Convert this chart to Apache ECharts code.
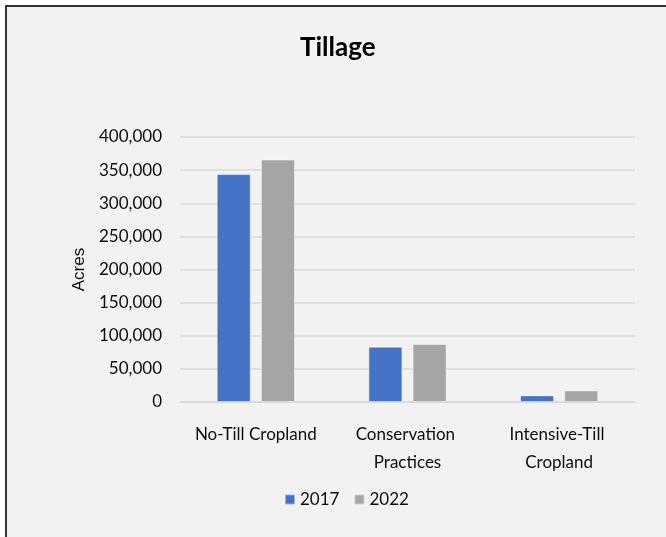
<!DOCTYPE html>
<html>
<head>
<meta charset="utf-8">
<script src="https://cdn.jsdelivr.net/npm/echarts@6/dist/echarts.min.js"></script>
<style>
html,body{margin:0;padding:0;background:#ffffff;}
#chart{width:666px;height:537px;}
</style>
</head>
<body>
<div id="chart"></div>
<script>
var categories = ['No-Till Cropland', 'Conservation Practices', 'Intensive-Till Cropland'];
var values2017 = [344000, 83500, 10000];
var values2022 = [366000, 87500, 17500];
var seriesNames = ['2017', '2022'];
var yMin = 0, yMax = 400000, yStep = 50000;

var FONT = 'Lato, "Open Sans", sans-serif';
var TXT = '#0d0d0d';
var chart = echarts.init(document.getElementById('chart'), null, {renderer: 'canvas'});
chart.setOption({
  backgroundColor: '#ffffff',
  animation: false,
  graphic: [
    {type: 'rect', z: -10, shape: {x: 5, y: 5, width: 661, height: 532}, style: {fill: '#f2f2f2'}},
    {type: 'line', z: -5, shape: {x1: 6, y1: 5, x2: 6, y2: 537}, style: {stroke: '#333333', lineWidth: 2}},
    {type: 'line', z: -5, shape: {x1: 5, y1: 6, x2: 666, y2: 6}, style: {stroke: '#333333', lineWidth: 2}}
  ],
  title: {
    text: 'Tillage',
    left: 295, top: 30,
    textStyle: {fontFamily: FONT, fontWeight: 'bold', fontSize: 26, color: '#000000'}
  },
  legend: {
    data: seriesNames,
    left: 284, top: 491, padding: 0,
    icon: 'rect', itemWidth: 10, itemHeight: 10, itemGap: 14,
    textStyle: {fontFamily: FONT, fontSize: 17, color: TXT}
  },
  grid: {left: 180, right: 31, top: 137, bottom: 135},
  xAxis: {
    type: 'category',
    data: categories,
    axisLine: {lineStyle: {color: '#d9d9d9', width: 1.5}},
    axisTick: {show: false},
    axisLabel: {
      fontFamily: FONT, fontSize: 17, color: TXT, margin: 19,
      lineHeight: 28, width: 140, overflow: 'break', interval: 0
    }
  },
  yAxis: {
    type: 'value',
    min: yMin, max: yMax, interval: yStep,
    name: 'Acres', nameLocation: 'middle', nameRotate: 90, nameGap: 88,
    nameTextStyle: {fontFamily: '"Liberation Sans", Arial, sans-serif', fontSize: 17, color: TXT},
    axisLine: {show: false},
    axisTick: {show: false},
    splitLine: {lineStyle: {color: '#d9d9d9', width: 1.5}},
    axisLabel: {
      fontFamily: FONT, fontSize: 17, color: TXT, margin: 18,
      formatter: function (v) { return v.toLocaleString('en-US'); }
    }
  },
  series: [
    {name: seriesNames[0], type: 'bar', data: values2017, barWidth: 34, barGap: '30%',
     itemStyle: {color: '#4472c4', borderColor: 'rgba(255,255,255,0.45)', borderWidth: 1}},
    {name: seriesNames[1], type: 'bar', data: values2022, barWidth: 34,
     itemStyle: {color: '#a5a5a5', borderColor: 'rgba(255,255,255,0.45)', borderWidth: 1}}
  ]
});
</script>
</body>
</html>
